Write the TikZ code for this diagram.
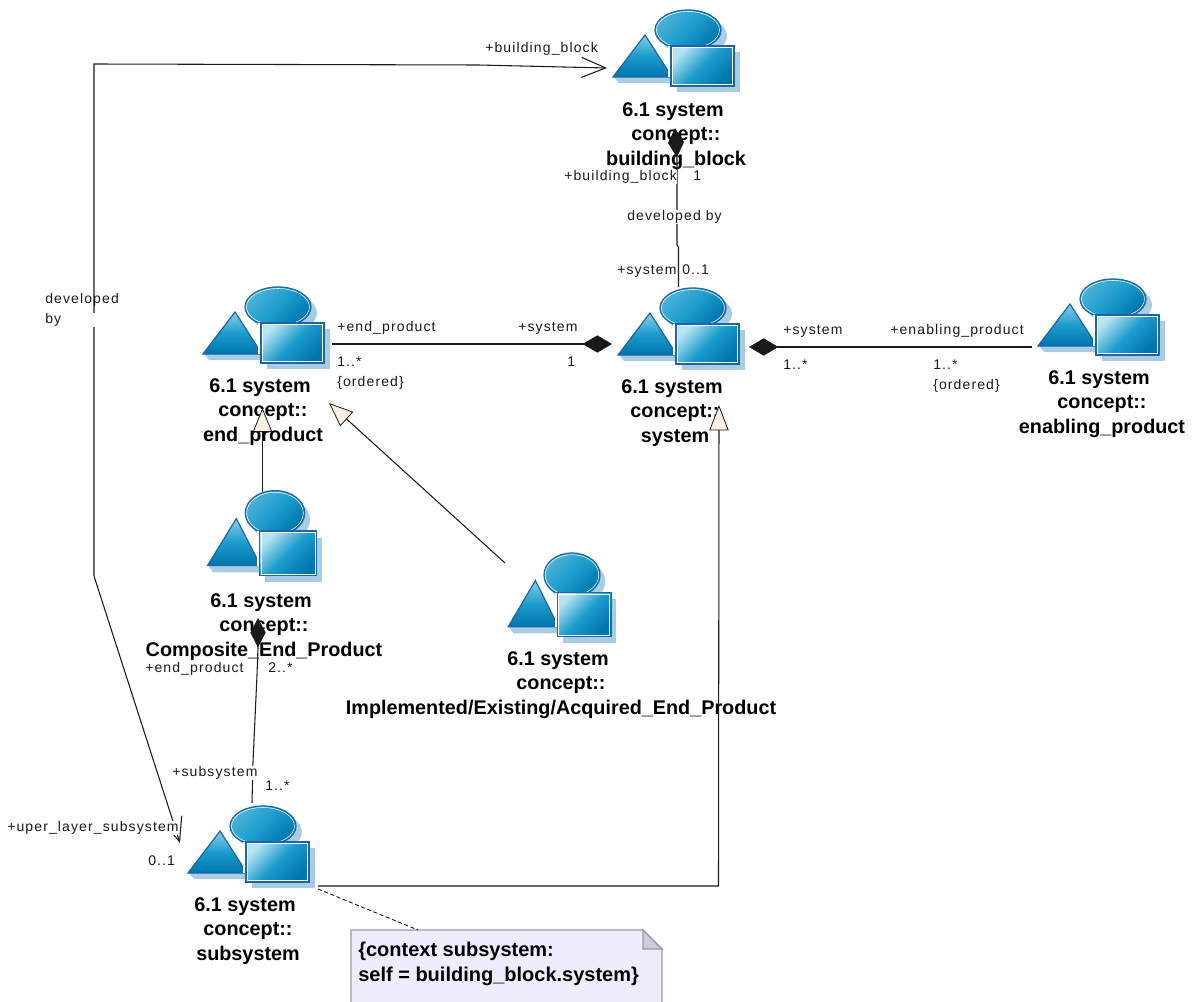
\documentclass[tikz,border=0pt]{standalone}
\usepackage{fontspec}
\setmainfont{Liberation Sans}
\newfontfamily\labelfamily[LetterSpace=8]{Liberation Sans}
\definecolor{umlEdge}{HTML}{1A66A8}
\definecolor{umlShadow}{HTML}{A8CCE2}
\definecolor{umlLight}{HTML}{B8E4F2}
\definecolor{umlMid}{HTML}{1C9CCC}
\definecolor{umlDark}{HTML}{0074AC}
\definecolor{umlLine}{HTML}{1A1A1A}
\definecolor{umlBeige}{HTML}{FBF0E0}
\definecolor{umlNote}{HTML}{EFEDFD}
\definecolor{umlFold}{HTML}{CCCCDD}
\definecolor{umlNoteEdge}{HTML}{9A9AA2}
\usetikzlibrary{arrows.meta}
\newcommand{\umlname}[1]{6.1 system\hspace*{.3em}\\concept::\\#1}

\begin{document}
\begin{tikzpicture}[
  x=0.75pt, y=-0.75pt,
  umltitle/.style={align=center, inner sep=0pt, text=black,
    font=\bfseries\fontsize{14.85pt}{18.6pt}\selectfont},
  umllabel/.style={anchor=west, fill=white, inner sep=0pt, text=umlLine, align=left,
    text height=8pt, text depth=2.6pt, font=\labelfamily\fontsize{10.5pt}{15pt}\selectfont},
  assoc/.style={draw=umlLine, line width=0.8pt},
  partof/.style={assoc, -{Diamond[length=22pt, width=#1]}},
  partof/.default=13pt,
  navig/.style={assoc, {Straight Barb[length=18pt, width=15pt]}-{Straight Barb[length=18pt, width=15pt]}},
  isa/.style={assoc, -{Triangle[length=#1, width=14.5pt, fill=umlBeige, line width=0.6pt]}},
  isa/.default=18pt,
  pics/umlicon/.style={code={
    \fill[umlShadow] (6,6) ellipse [x radius=33, y radius=20];
    \fill[umlShadow] (-74,47) -- (-11,47) -- (-11,53) -- (-69,53) -- cycle;
    \fill[umlShadow] (-11,22) rectangle (52,62);
    \draw[umlEdge, line width=0.9pt, top color=umlMid!70!umlLight, bottom color=umlDark, middle color=umlMid, shading angle=45]
      (0,0) ellipse [x radius=33, y radius=20];
    \draw[white, line width=0.4pt] (0,0) ellipse [x radius=31.5, y radius=18.5];
    \draw[umlEdge, line width=0.9pt, top color=umlLight!70!umlMid, bottom color=umlDark, middle color=umlMid]
      (-43,5) -- (-75,47) -- (-16,47) -- cycle;
    \draw[white, line width=1.6pt] (-19,16) -- (-19,47);
    \draw[umlEdge, line width=0.9pt, top color=umlLight, bottom color=umlDark, middle color=umlMid, shading angle=45]
      (-17,16) rectangle (46,56);
    \draw[white, line width=0.5pt] (-15.5,17.5) rectangle (44.5,54.5);
  }}
]
  \useasboundingbox (0,0) rectangle (1193,1002);
  % class icons
  \pic at (688,30) {umlicon};
  \pic at (693,308) {umlicon};
  \pic at (278,307) {umlicon};
  \pic at (1113,299) {umlicon};
  \pic[xscale=.9, yscale=1.12] at (275,513) {umlicon};
  \pic[xscale=.85, yscale=1.1] at (572,575) {umlicon};
  \pic at (263,826) {umlicon};

  % class names
  \node[umltitle] (buildingname) at (676,136) {\umlname{building\_block}};
  \node[umltitle] (systemname) at (675,413) {\umlname{system}};
  \node[umltitle] (endname) at (263,412) {\umlname{end\_product}};
  \node[umltitle] (enablingname) at (1102,404) {\umlname{enabling\_product}};
  \node[umltitle] (compositename) at (264,627) {\umlname{Composite\_End\_Product}};
  \node[umltitle] (implementedname) at (561,685) {\umlname{Implemented/Existing/Acquired\_End\_Product}};
  \node[umltitle] (subsystemname) at (248,931) {\umlname{subsystem}};

  % connector ends
  \coordinate (blocktop) at (607,68);
  \coordinate (blockbelow) at (675,128);
  \coordinate (systemtop) at (678.5,287);
  \coordinate (systemleft) at (612,344);
  \coordinate (systemright) at (749,347);
  \coordinate (systemunder) at (719,405);
  \coordinate (endright) at (332,344);
  \coordinate (enablingleft) at (1032,347);
  \coordinate (endunder) at (262.5,408);
  \coordinate (endslant) at (329,403);
  \coordinate (compositetop) at (262.5,492);
  \coordinate (compositeunder) at (258,618);
  \coordinate (implementedtop) at (505,563);
  \coordinate (subsystemtop) at (252,803);
  \coordinate (subsystemleft) at (180,843);
  \coordinate (subsystemcorner) at (318,886);
  \coordinate (subsystemdash) at (318,889);
  \coordinate (notetop) at (418,930);

  % note
  \draw[umlNoteEdge, fill=umlNote, line width=0.8pt]
    (351,1003) -- (351,930) -- (643,930) -- (662,949) -- (662,1003);
  \draw[umlNoteEdge, fill=umlFold, line width=0.8pt] (643,930) -- (643,949) -- (662,949) -- cycle;
  \node[anchor=north west, align=left, inner sep=0pt, font=\bfseries\fontsize{15pt}{18.6pt}\selectfont]
    (contextnote) at (358,942) {\{context subsystem:\\self = building\_block.system\}};

  % connectors
  \draw[navig] (blocktop) -- (478,65) -- (94,64) -- (94,576) -- (subsystemleft);
  \draw[partof=12pt] (systemtop) -- (678.5,247) -- (677,245) -- (677,158) -- (blockbelow);
  \draw[partof] (endright) -- (systemleft);
  \draw[partof] (enablingleft) -- (systemright);
  \draw[isa] (compositetop) -- (endunder);
  \draw[isa] (implementedtop) -- (endslant);
  \draw[isa=19pt] (subsystemcorner) -- (718.5,886) -- (systemunder);
  \draw[partof=11.5pt] (subsystemtop) -- (253,762) -- (257,675) -- (258,648) -- (compositeunder);
  \draw[draw=umlLine, densely dashed, line width=0.7pt] (subsystemdash) -- (notetop);

  % role labels
  \node[umllabel] (roleblocktop) at (485,49) {+building\_block};
  \node[umllabel] (roleblock) at (564,177) {+building\_block};
  \node[umllabel] (multblock) at (693,177) {1};
  \node[umllabel] (assocright) at (627,217) {developed by};
  \node[umllabel] (rolesystem) at (617,271) {+system};
  \node[umllabel] (multsystem) at (682,271) {0..1};
  \node[umllabel] (roleend) at (337,328) {+end\_product};
  \node[umllabel] (rolesystemleft) at (518,328) {+system};
  \node[umllabel] (multend) at (337,363) {1..*};
  \node[umllabel] (orderedend) at (337,383) {\{ordered\}};
  \node[umllabel] (multsystemleft) at (567,363) {1};
  \node[umllabel] (rolesystemright) at (783,331) {+system};
  \node[umllabel] (roleenabling) at (890,331) {+enabling\_product};
  \node[umllabel] (multsystemright) at (783,366) {1..*};
  \node[umllabel] (multenabling) at (933,366) {1..*};
  \node[umllabel] (orderedenabling) at (933,386) {\{ordered\}};
  \node[umllabel] (assocleft) at (45,320) {developed\\by};
  \node[umllabel] (rolepart) at (145,669) {+end\_product};
  \node[umllabel] (multpart) at (268,669) {2..*};
  \node[umllabel] (rolewhole) at (172,773) {+subsystem};
  \node[umllabel] (multwhole) at (265,787) {1..*};
  \node[umllabel] (roleupper) at (7,828) {+uper\_layer\_subsystem};
  \node[umllabel] (multupper) at (148,862) {0..1};
\end{tikzpicture}
\end{document}
